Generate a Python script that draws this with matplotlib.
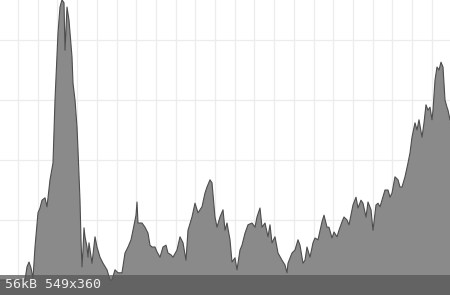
import numpy as np
import matplotlib
matplotlib.use("Agg")
import matplotlib.pyplot as plt
from matplotlib.patches import Rectangle

# sample positions (left to right) and series values
x_pos = [0, 25, 27, 29, 31, 33, 35, 38, 40, 42, 45, 47, 50, 53, 55, 58, 60, 62, 64, 65,
         67, 69, 70, 72, 73, 75, 77, 78, 80, 81, 82, 83, 84, 85, 87, 88, 89, 92, 95, 97,
         100, 103, 107, 110, 112, 115, 118, 122, 125, 128, 131, 133, 136, 137, 138, 142,
         145, 148, 150, 152, 155, 157, 160, 163, 166, 168, 171, 173, 177, 180, 183, 186,
         188, 192, 195, 198, 202, 205, 207, 210, 212, 215, 217, 220, 223, 225, 227, 230,
         232, 235, 237, 240, 242, 245, 248, 252, 255, 257, 260, 262, 265, 268, 270, 272,
         275, 278, 282, 285, 287, 288, 292, 295, 298, 300, 303, 305, 307, 310, 313, 315,
         318, 322, 324, 327, 329, 332, 334, 337, 339, 342, 344, 347, 349, 352, 353, 356,
         358, 361, 363, 366, 368, 371, 373, 376, 378, 380, 382, 385, 388, 390, 392, 395,
         398, 400, 402, 405, 408, 410, 412, 415, 417, 419, 422, 424, 426, 428, 430, 432,
         433, 435, 437, 439, 441, 443, 445, 447, 448, 450]
values = [0, 0, 2.2, 3.0, 2.0, 0.3, 5.5, 11.2, 12.0, 13.3, 13.7, 12.2, 16.7, 19.5, 30.0,
          41.2, 45.5, 46.7, 46.2, 38.3, 45.5, 43.3, 41.2, 37.2, 32.8, 30.0, 25.5, 21.7,
          13.3, 6.7, 2.2, 5.0, 8.7, 7.2, 5.5, 3.8, 6.2, 2.8, 7.2, 5.5, 3.8, 2.8, 1.7, 0,
          0, 1.7, 1.2, 1.2, 4.5, 5.5, 6.7, 8.3, 10.8, 13.0, 9.5, 9.5, 8.8, 7.8, 5.8, 5.5,
          5.5, 4.7, 3.8, 5.5, 5.8, 4.5, 4.2, 3.8, 5.0, 7.2, 6.2, 3.3, 8.3, 10.5, 12.8,
          11.2, 12.2, 14.5, 15.5, 16.7, 16.2, 10.5, 8.8, 10.5, 11.7, 8.3, 9.5, 6.7, 3.0,
          3.7, 1.7, 5.0, 5.8, 7.8, 9.2, 9.5, 8.8, 10.5, 12.0, 8.8, 9.5, 7.2, 9.2, 6.2,
          7.2, 4.5, 3.3, 2.5, 1.2, 2.8, 4.5, 5.0, 6.7, 5.8, 2.8, 3.3, 5.5, 3.8, 6.2, 7.0,
          6.7, 9.7, 10.8, 8.8, 8.8, 7.0, 8.0, 7.2, 8.3, 9.7, 10.5, 10.0, 9.2, 11.7, 12.5,
          13.8, 12.0, 13.3, 12.8, 10.5, 13.0, 11.7, 8.3, 12.5, 12.8, 12.2, 13.3, 15.0,
          15.0, 13.8, 14.5, 17.2, 16.7, 15.5, 15.5, 17.2, 19.5, 21.2, 23.8, 26.2, 25.0,
          26.7, 23.8, 26.2, 29.2, 28.3, 28.8, 26.7, 28.3, 33.3, 35.5, 35.0, 36.3, 35.5,
          30.0, 28.8, 28.3, 26.7]

caption = "56kB 549x360"

fig = plt.figure(figsize=(4.5, 2.95), dpi=100)
ax = fig.add_axes([0, 0, 1, 1])

y_lo, y_hi = -2.5, 46.67
ax.fill_between(x_pos, values, y_lo, color="#8a8a8a", linewidth=0)
ax.plot(x_pos, values, color="#4d4d4d", linewidth=0.8)

ax.set_xlim(0, 450)
ax.set_ylim(y_lo, y_hi)
ax.set_xticks(np.arange(18, 451, 19.7))
ax.set_yticks([0, 10, 20, 30, 40])
ax.grid(True, color="#ececec", linewidth=0.9)
ax.set_axisbelow(True)
ax.tick_params(length=0, labelbottom=False, labelleft=False)
for s in ax.spines.values():
    s.set_visible(False)

# dark caption strip along the bottom
ax.add_patch(Rectangle((0, 0), 1, 20 / 295, transform=ax.transAxes,
                       facecolor="#565656", alpha=0.74, linewidth=0, zorder=5))
ax.text(5 / 450, 10 / 295, caption, transform=ax.transAxes, ha="left", va="center",
        color="#eeeeee", fontsize=9.5, family="DejaVu Sans Mono", zorder=6)

fig.savefig("out.png", dpi=100)
